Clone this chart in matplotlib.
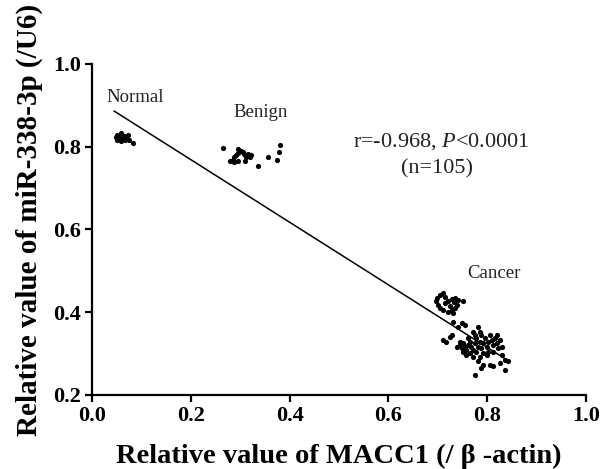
# -*- coding: utf-8 -*-

import matplotlib
matplotlib.use("Agg")
import matplotlib.pyplot as plt

# --- data ---
normal_x = [0.051, 0.058, 0.048, 0.055, 0.062, 0.051, 0.059, 0.066, 0.072, 0.075,
            0.082, 0.068, 0.056, 0.064]
normal_y = [0.829, 0.832, 0.824, 0.824, 0.821, 0.816, 0.814, 0.816, 0.828, 0.816,
            0.810, 0.821, 0.818, 0.826]

benign_x = [0.266, 0.295, 0.302, 0.296, 0.307, 0.315, 0.321, 0.312, 0.288, 0.280,
            0.287, 0.296, 0.310, 0.335, 0.356, 0.375, 0.379, 0.381, 0.305, 0.292,
            0.319, 0.285]
benign_y = [0.796, 0.795, 0.790, 0.784, 0.782, 0.782, 0.780, 0.776, 0.774, 0.766,
            0.762, 0.766, 0.766, 0.754, 0.774, 0.768, 0.788, 0.804, 0.787, 0.780,
            0.776, 0.768]

cancer_x = [0.698, 0.704, 0.711, 0.714, 0.697, 0.700, 0.704, 0.714, 0.721, 0.728,
            0.734, 0.741, 0.751, 0.724, 0.728, 0.734, 0.731, 0.721, 0.711, 0.738,
            0.732,
            0.731, 0.748, 0.755, 0.741, 0.782, 0.785, 0.772,
            0.711, 0.717, 0.724, 0.728, 0.744,
            0.738, 0.744, 0.748, 0.751, 0.755, 0.758, 0.761, 0.765, 0.768, 0.772,
            0.775, 0.778, 0.782, 0.785, 0.788, 0.792, 0.795, 0.799, 0.802, 0.805,
            0.809, 0.812, 0.815, 0.819, 0.822, 0.826, 0.829, 0.751, 0.765, 0.778,
            0.792, 0.802, 0.812, 0.772, 0.785, 0.799, 0.761, 0.775, 0.788, 0.819,
            0.758, 0.782, 0.792, 0.788, 0.805, 0.812, 0.826, 0.836, 0.775, 0.829,
            0.836, 0.843]
cancer_y = [0.434, 0.442, 0.446, 0.438, 0.426, 0.418, 0.410, 0.422, 0.427, 0.432,
            0.434, 0.430, 0.426, 0.414, 0.405, 0.410, 0.397, 0.401, 0.405, 0.418,
            0.424,
            0.377, 0.373, 0.369, 0.365, 0.365, 0.353, 0.353,
            0.333, 0.329, 0.341, 0.345, 0.329,
            0.317, 0.321, 0.313, 0.325, 0.317, 0.309, 0.321, 0.329, 0.317, 0.309,
            0.325, 0.337, 0.317, 0.329, 0.313, 0.325, 0.337, 0.317, 0.329, 0.345,
            0.333, 0.321, 0.337, 0.325, 0.313, 0.333, 0.317, 0.305, 0.301, 0.305,
            0.301, 0.305, 0.305, 0.293, 0.293, 0.297, 0.337, 0.345, 0.345, 0.345,
            0.297, 0.281, 0.273, 0.265, 0.273, 0.269, 0.277, 0.260, 0.248, 0.297,
            0.285, 0.281]

# regression line end points
fit_x = [0.045, 0.845]
fit_y = [0.886, 0.281]

x_ticks = [0.0, 0.2, 0.4, 0.6, 0.8, 1.0]
y_ticks = [0.2, 0.4, 0.6, 0.8, 1.0]

# --- style ---
plt.rcParams['font.family'] = ['Liberation Serif', 'DejaVu Serif']
plt.rcParams['mathtext.fontset'] = 'custom'
plt.rcParams['mathtext.rm'] = 'Liberation Serif'
plt.rcParams['mathtext.it'] = 'Liberation Serif:italic'

fig = plt.figure(figsize=(6.03, 4.69), dpi=100)
ax = fig.add_axes([0.1526, 0.1578, 0.8192, 0.7058])

for xs, ys in [(normal_x, normal_y), (benign_x, benign_y), (cancer_x, cancer_y)]:
    ax.scatter(xs, ys, s=14, color='black', linewidths=0, zorder=3)

ax.plot(fit_x, fit_y, color='black', lw=1.1, zorder=2)

ax.set_xlim(0.0, 1.0)
ax.set_ylim(0.2, 1.0)
ax.set_xticks(x_ticks)
ax.set_yticks(y_ticks)
ax.set_xticklabels([f"{t:.1f}" for t in x_ticks], fontweight='bold', fontsize=16)
ax.set_yticklabels([f"{t:.1f}" for t in y_ticks], fontweight='bold', fontsize=16)

for side in ['top', 'right']:
    ax.spines[side].set_visible(False)
for side in ['left', 'bottom']:
    ax.spines[side].set_linewidth(1.6)
ax.tick_params(direction='out', length=5, width=1.6, pad=3)

ax.set_xlabel("Relative value of MACC1 (/ β -actin)", fontsize=20.5, fontweight='bold')
ax.set_ylabel("Relative value of miR-338-3p (/U6)", fontsize=21, fontweight='bold')
ax.xaxis.set_label_coords(0.5, -0.148)
ax.yaxis.set_label_coords(-0.10, 0.53)

txt_col = '#222222'
ax.text(0.087, 0.908, "Normal", fontsize=13.5, ha='center', va='baseline', color=txt_col)
ax.text(0.342, 0.873, "Benign", fontsize=13.5, ha='center', va='baseline', color=txt_col)
ax.text(0.814, 0.483, "Cancer", fontsize=13.5, ha='center', va='baseline', color=txt_col)
ax.text(0.706, 0.800, r"r=-0.968, $\mathit{P}$<0.0001", fontsize=16, ha='center',
        va='baseline', color=txt_col)
ax.text(0.698, 0.736, "(n=105)", fontsize=16, ha='center', va='baseline', color=txt_col)

fig.savefig("out.png", dpi=100)
